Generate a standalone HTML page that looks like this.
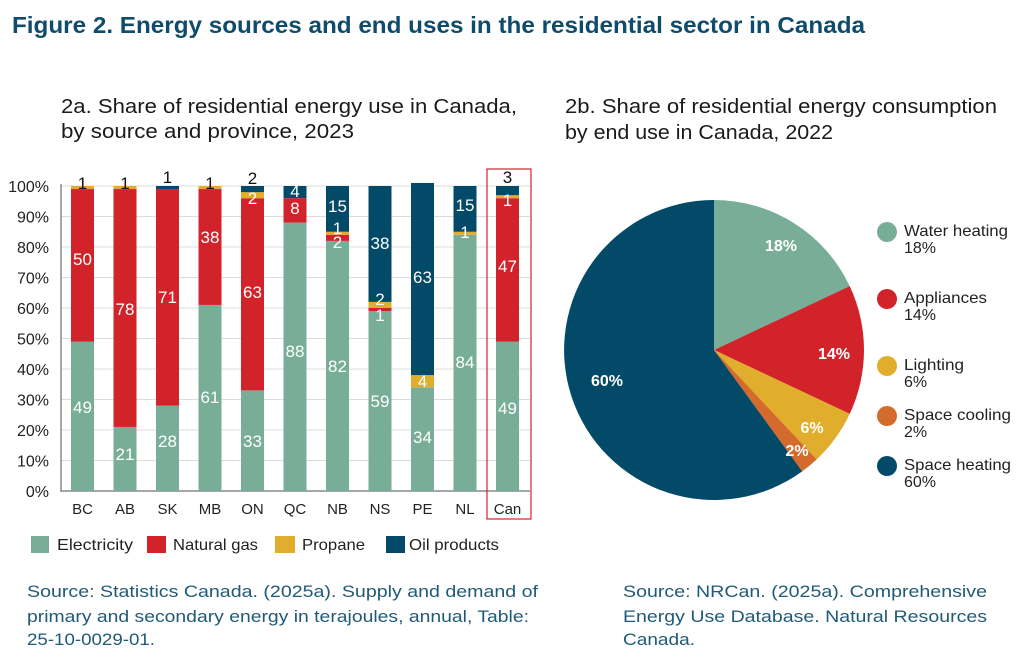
<!DOCTYPE html>
<html><head><meta charset="utf-8"><style>
html,body{margin:0;padding:0;background:#fff;}
svg{display:block;font-family:"Liberation Sans",sans-serif;}
</style></head><body>
<svg width="1024" height="663" viewBox="0 0 1024 663" xmlns="http://www.w3.org/2000/svg">
<rect width="1024" height="663" fill="#fff"/>
<text x="12" y="33" font-size="23" font-weight="bold" fill="#0f4c6b" textLength="853" lengthAdjust="spacingAndGlyphs">Figure 2. Energy sources and end uses in the residential sector in Canada</text>

<text x="61" y="113" font-size="20" fill="#1a1a1a" textLength="456" lengthAdjust="spacingAndGlyphs">2a. Share of residential energy use in Canada,</text>
<text x="61" y="138" font-size="20" fill="#1a1a1a" textLength="293" lengthAdjust="spacingAndGlyphs">by source and province, 2023</text>
<text x="565" y="113" font-size="20" fill="#1a1a1a" textLength="432" lengthAdjust="spacingAndGlyphs">2b. Share of residential energy consumption</text>
<text x="565" y="139" font-size="20" fill="#1a1a1a" textLength="268" lengthAdjust="spacingAndGlyphs">by end use in Canada, 2022</text>

<g stroke="#dcdcdc" stroke-width="1">
<line x1="61" y1="186" x2="530" y2="186"/>
<line x1="61" y1="216.5" x2="530" y2="216.5"/>
<line x1="61" y1="247" x2="530" y2="247"/>
<line x1="61" y1="277.5" x2="530" y2="277.5"/>
<line x1="61" y1="308" x2="530" y2="308"/>
<line x1="61" y1="338.5" x2="530" y2="338.5"/>
<line x1="61" y1="369" x2="530" y2="369"/>
<line x1="61" y1="399.5" x2="530" y2="399.5"/>
<line x1="61" y1="430" x2="530" y2="430"/>
<line x1="61" y1="460.5" x2="530" y2="460.5"/>
</g>
<line x1="61" y1="491" x2="530" y2="491" stroke="#8a8a8a" stroke-width="1.5"/>
<line x1="61" y1="184" x2="61" y2="492" stroke="#8a8a8a" stroke-width="1.5"/>

<g font-size="16" fill="#222" text-anchor="end">
<text x="49" y="192">100%</text>
<text x="49" y="222.5">90%</text>
<text x="49" y="253">80%</text>
<text x="49" y="283.5">70%</text>
<text x="49" y="314">60%</text>
<text x="49" y="344.5">50%</text>
<text x="49" y="375">40%</text>
<text x="49" y="405.5">30%</text>
<text x="49" y="436">20%</text>
<text x="49" y="466.5">10%</text>
<text x="49" y="497">0%</text>
</g>

<g>
<rect x="71" y="341.55" width="23" height="149.45" fill="#78ae98"/>
<rect x="71" y="189.05" width="23" height="152.5" fill="#d2232b"/>
<rect x="71" y="186" width="23" height="3.05" fill="#e0ad2c"/>
<rect x="113.5" y="426.95" width="23" height="64.05" fill="#78ae98"/>
<rect x="113.5" y="189.05" width="23" height="237.9" fill="#d2232b"/>
<rect x="113.5" y="186" width="23" height="3.05" fill="#e0ad2c"/>
<rect x="156" y="405.6" width="23" height="85.4" fill="#78ae98"/>
<rect x="156" y="189.05" width="23" height="216.55" fill="#d2232b"/>
<rect x="156" y="186" width="23" height="3.05" fill="#024a68"/>
<rect x="198.5" y="304.95" width="23" height="186.05" fill="#78ae98"/>
<rect x="198.5" y="189.05" width="23" height="115.9" fill="#d2232b"/>
<rect x="198.5" y="186" width="23" height="3.05" fill="#e0ad2c"/>
<rect x="241" y="390.35" width="23" height="100.65" fill="#78ae98"/>
<rect x="241" y="198.2" width="23" height="192.15" fill="#d2232b"/>
<rect x="241" y="192.1" width="23" height="6.1" fill="#e0ad2c"/>
<rect x="241" y="186" width="23" height="6.1" fill="#024a68"/>
<rect x="283.5" y="222.6" width="23" height="268.4" fill="#78ae98"/>
<rect x="283.5" y="198.2" width="23" height="24.4" fill="#d2232b"/>
<rect x="283.5" y="186" width="23" height="12.2" fill="#024a68"/>
<rect x="326" y="240.9" width="23" height="250.1" fill="#78ae98"/>
<rect x="326" y="234.8" width="23" height="6.1" fill="#d2232b"/>
<rect x="326" y="231.75" width="23" height="3.05" fill="#e0ad2c"/>
<rect x="326" y="186" width="23" height="45.75" fill="#024a68"/>
<rect x="368.5" y="311.05" width="23" height="179.95" fill="#78ae98"/>
<rect x="368.5" y="308" width="23" height="3.05" fill="#d2232b"/>
<rect x="368.5" y="301.9" width="23" height="6.1" fill="#e0ad2c"/>
<rect x="368.5" y="186" width="23" height="115.9" fill="#024a68"/>
<rect x="411" y="387.3" width="23" height="103.7" fill="#78ae98"/>
<rect x="411" y="375.1" width="23" height="12.2" fill="#e0ad2c"/>
<rect x="411" y="182.95" width="23" height="192.15" fill="#024a68"/>
<rect x="453.5" y="234.8" width="23" height="256.2" fill="#78ae98"/>
<rect x="453.5" y="231.75" width="23" height="3.05" fill="#e0ad2c"/>
<rect x="453.5" y="186" width="23" height="45.75" fill="#024a68"/>
<rect x="496" y="341.55" width="23" height="149.45" fill="#78ae98"/>
<rect x="496" y="198.2" width="23" height="143.35" fill="#d2232b"/>
<rect x="496" y="195.15" width="23" height="3.05" fill="#e0ad2c"/>
<rect x="496" y="186" width="23" height="9.15" fill="#024a68"/>
</g>

<rect x="487" y="169" width="44" height="350" fill="none" stroke="#d2232b" stroke-width="1.2"/>

<g font-size="17" fill="#fff" text-anchor="middle">
<text x="82.5" y="265">50</text><text x="82.5" y="413">49</text>
<text x="125" y="315">78</text><text x="125" y="460">21</text>
<text x="167.5" y="303">71</text><text x="167.5" y="447">28</text>
<text x="210" y="243">38</text><text x="210" y="403">61</text>
<text x="252.5" y="298">63</text><text x="252.5" y="447">33</text><text x="252.5" y="204">2</text>
<text x="295" y="197">4</text><text x="295" y="214">8</text><text x="295" y="357">88</text>
<text x="337.5" y="212">15</text><text x="337.5" y="234">1</text><text x="337.5" y="248">2</text><text x="337.5" y="372">82</text>
<text x="380" y="249">38</text><text x="380" y="305">2</text><text x="380" y="321">1</text><text x="380" y="407">59</text>
<text x="422.5" y="283">63</text><text x="422.5" y="387">4</text><text x="422.5" y="443">34</text>
<text x="465" y="211">15</text><text x="465" y="238">1</text><text x="465" y="368">84</text>
<text x="507.5" y="206">1</text><text x="507.5" y="272">47</text><text x="507.5" y="414">49</text>
</g>
<g font-size="17" fill="#111" text-anchor="middle">
<text x="82.5" y="189">1</text>
<text x="125" y="189">1</text>
<text x="167.5" y="183">1</text>
<text x="210" y="189">1</text>
<text x="252.5" y="184">2</text>
<text x="507.5" y="183">3</text>
</g>

<g font-size="15" fill="#222" text-anchor="middle">
<text x="82.5" y="514">BC</text>
<text x="125" y="514">AB</text>
<text x="167.5" y="514">SK</text>
<text x="210" y="514">MB</text>
<text x="252.5" y="514">ON</text>
<text x="295" y="514">QC</text>
<text x="337.5" y="514">NB</text>
<text x="380" y="514">NS</text>
<text x="422.5" y="514">PE</text>
<text x="465" y="514">NL</text>
<text x="507.5" y="514">Can</text>
</g>

<rect x="31" y="536" width="18" height="17" fill="#78ae98"/>
<rect x="147" y="536" width="19" height="17" fill="#d2232b"/>
<rect x="275" y="536" width="20" height="17" fill="#e0ad2c"/>
<rect x="386" y="536" width="19" height="17" fill="#024a68"/>
<g font-size="16" fill="#222">
<text x="57" y="550" textLength="76" lengthAdjust="spacingAndGlyphs">Electricity</text>
<text x="173" y="550" textLength="85" lengthAdjust="spacingAndGlyphs">Natural gas</text>
<text x="302" y="550" textLength="63" lengthAdjust="spacingAndGlyphs">Propane</text>
<text x="409" y="550" textLength="90" lengthAdjust="spacingAndGlyphs">Oil products</text>
</g>

<g font-size="17" fill="#1f5a78">
<text x="27" y="597" textLength="511" lengthAdjust="spacingAndGlyphs">Source: Statistics Canada. (2025a). Supply and demand of</text>
<text x="27" y="622" textLength="502" lengthAdjust="spacingAndGlyphs">primary and secondary energy in terajoules, annual, Table:</text>
<text x="27" y="645" textLength="128" lengthAdjust="spacingAndGlyphs">25-10-0029-01.</text>
<text x="623" y="597" textLength="364" lengthAdjust="spacingAndGlyphs">Source: NRCan. (2025a). Comprehensive</text>
<text x="623" y="622" textLength="364" lengthAdjust="spacingAndGlyphs">Energy Use Database. Natural Resources</text>
<text x="623" y="645" textLength="72" lengthAdjust="spacingAndGlyphs">Canada.</text>
</g>

<path d="M714,350 L714,200 A150,150 0 0 1 849.7,286.1 Z" fill="#78ae98"/>
<path d="M714,350 L849.7,286.1 A150,150 0 0 1 849.7,413.9 Z" fill="#d2232b"/>
<path d="M714,350 L849.7,413.9 A150,150 0 0 1 816.7,459.4 Z" fill="#e0ad2c"/>
<path d="M714,350 L816.7,459.4 A150,150 0 0 1 802.2,471.4 Z" fill="#d46a2b"/>
<path d="M714,350 L802.2,471.4 A150,150 0 1 1 714,200 Z" fill="#024a68"/>
<g font-size="16" font-weight="bold" fill="#fff" text-anchor="middle">
<text x="781" y="251">18%</text>
<text x="834" y="359">14%</text>
<text x="812" y="433">6%</text>
<text x="797" y="456">2%</text>
<text x="607" y="386">60%</text>
</g>

<circle cx="887" cy="232" r="10" fill="#78ae98"/>
<circle cx="887" cy="299" r="10" fill="#d2232b"/>
<circle cx="887" cy="366" r="10" fill="#e0ad2c"/>
<circle cx="887" cy="416" r="10" fill="#d46a2b"/>
<circle cx="887" cy="466" r="10" fill="#024a68"/>
<g font-size="16" fill="#222">
<text x="904" y="236" textLength="104" lengthAdjust="spacingAndGlyphs">Water heating</text>
<text x="904" y="253">18%</text>
<text x="904" y="303" textLength="83" lengthAdjust="spacingAndGlyphs">Appliances</text>
<text x="904" y="320">14%</text>
<text x="904" y="370" textLength="60" lengthAdjust="spacingAndGlyphs">Lighting</text>
<text x="904" y="387">6%</text>
<text x="904" y="420" textLength="107" lengthAdjust="spacingAndGlyphs">Space cooling</text>
<text x="904" y="437">2%</text>
<text x="904" y="470" textLength="107" lengthAdjust="spacingAndGlyphs">Space heating</text>
<text x="904" y="487">60%</text>
</g>
</svg>
</body></html>
